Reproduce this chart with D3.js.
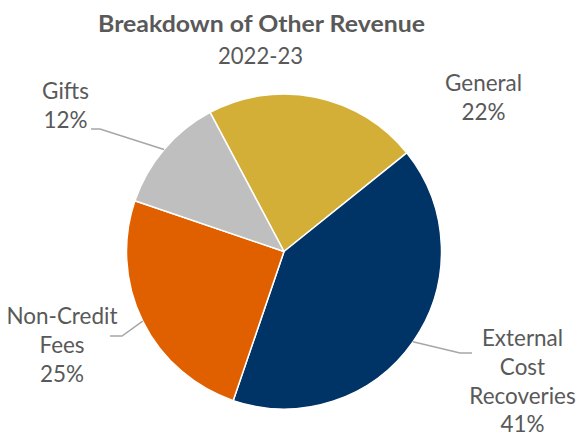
<!DOCTYPE html>
<html>
<head>
<meta charset="utf-8">
<script src="https://cdn.jsdelivr.net/npm/d3@7"></script>
<style>
  html, body { margin: 0; padding: 0; background: #fff; }
  svg { display: block; }
  text { font-family: Lato, "Open Sans", sans-serif; fill: #595959; }
</style>
</head>
<body>
<svg id="chart" width="576" height="437"></svg>
<script>
// ---- data ----
const categories = ["General", "External Cost Recoveries", "Non-Credit Fees", "Gifts"];
const values = [22, 41, 25, 12];
const labelLines = [["General", "22%"], ["External", "Cost", "Recoveries", "41%"], ["Non-Credit", "Fees", "25%"], ["Gifts", "12%"]];
const colors = ["#D4AF37", "#003366", "#E06000", "#BFBFBF"];
const title = "Breakdown of Other Revenue";
const subtitle = "2022-23";

// ---- layout ----
const svg = d3.select("#chart");
const cx = 284, cy = 251.5, r = 157.5;
const startDeg = -28;

const pie = d3.pie().sort(null).value(d => d)
  .startAngle(startDeg * Math.PI / 180)
  .endAngle((startDeg + 360) * Math.PI / 180);
const arcs = pie(values);
const arc = d3.arc().innerRadius(0).outerRadius(r);

const g = svg.append("g").attr("transform", `translate(${cx},${cy})`);
g.selectAll("path").data(arcs).join("path")
  .attr("d", arc)
  .attr("fill", (d, i) => colors[i])
  .attr("stroke", "#fff")
  .attr("stroke-width", 1.5)
  .attr("stroke-linejoin", "round");

function fit(sel, target) {
  const n = sel.node();
  const fs = parseFloat(sel.attr("font-size"));
  const w = n.getComputedTextLength();
  sel.attr("font-size", fs * target / w);
  return fs * target / w;
}
// title & subtitle: height-matched size, width-matched length
svg.append("text").attr("x", 261.5).attr("y", 32).attr("text-anchor", "middle")
  .attr("font-weight", "bold").attr("font-size", 23.5)
  .attr("textLength", 327).attr("lengthAdjust", "spacingAndGlyphs").text(title);
svg.append("text").attr("x", 260.5).attr("y", 63.5).attr("text-anchor", "middle")
  .attr("font-size", 23.5)
  .attr("textLength", 85).attr("lengthAdjust", "spacingAndGlyphs").text(subtitle);

// label font size from "General"
const probe = svg.append("text").attr("font-size", 24).text("General");
const labelFs = fit(probe, 77);
probe.remove();

// label positions (center x, first baseline)
const labelPos = [[483.5, 91], [522.5, 346], [62, 324], [65.5, 99]];
const lineH = 28.8;
labelLines.forEach((lines, i) => {
  const txt = svg.append("text").attr("text-anchor", "middle").attr("font-size", labelFs);
  lines.forEach((s, j) => {
    txt.append("tspan").attr("x", labelPos[i][0]).attr("y", labelPos[i][1] + j * lineH).text(s);
  });
});

// leader lines: from slice mid-angle on edge, via elbow, to label
const leaders = [
  null,
  { elbow: [460, 353], end: [472, 353] },
  { elbow: [122, 336], end: [110, 336] },
  { elbow: [100, 129], end: [91, 129] }
];
arcs.forEach((a, i) => {
  const L = leaders[i];
  if (!L) return;
  const mid = (a.startAngle + a.endAngle) / 2;
  const p = [cx + r * Math.sin(mid), cy - r * Math.cos(mid)];
  svg.append("polyline")
    .attr("points", [p, L.elbow, L.end].map(q => q.join(",")).join(" "))
    .attr("fill", "none")
    .attr("stroke", "#A6A6A6")
    .attr("stroke-width", 1.5);
});
</script>
</body>
</html>
